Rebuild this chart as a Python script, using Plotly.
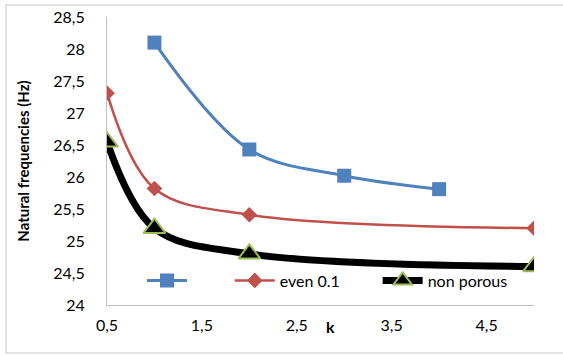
import plotly.graph_objects as go

k_blue = [1, 2, 3, 4]
f_blue = [28.1, 26.43, 26.02, 25.81]
k_even = [0.5, 1, 2, 5]
f_even = [27.31, 25.82, 25.41, 25.2]
k_nonp = [0.5, 1, 2, 5]
f_nonp = [26.55, 25.2, 24.8, 24.6]

x_ticks = [0.5, 1.5, 2.5, 3.5, 4.5]
y_ticks = [24, 24.5, 25, 25.5, 26, 26.5, 27, 27.5, 28, 28.5]

font = "Lato, Carlito, Calibri, sans-serif"
pad = "&nbsp;"

fig = go.Figure()

fig.add_trace(go.Scatter(
    x=k_blue, y=f_blue, name=pad * 8, mode="lines+markers",
    line=dict(color="#4F81BD", width=3, shape="spline", smoothing=1),
    marker=dict(symbol="square", size=14, color="#4F81BD"),
))
fig.add_trace(go.Scatter(
    x=k_even, y=f_even, name="even 0.1" + pad * 8, mode="lines+markers",
    line=dict(color="#C0504D", width=2.5, shape="spline", smoothing=1),
    marker=dict(symbol="diamond", size=12, color="#C0504D"),
))
fig.add_trace(go.Scatter(
    x=k_nonp, y=f_nonp, name="non porous", mode="lines+markers",
    line=dict(color="black", width=7, shape="spline", smoothing=1),
    marker=dict(symbol="triangle-up", size=19, color="black",
                line=dict(color="#9BBB59", width=2)),
))

fig.update_layout(
    width=563, height=356,
    margin=dict(l=107, r=29, t=17, b=51),
    paper_bgcolor="white", plot_bgcolor="white",
    separators=", ",
    font=dict(family=font, size=16, color="black"),
    showlegend=True,
    legend=dict(orientation="h", x=35 / 427, y=0.085, xanchor="left", yanchor="middle",
                bgcolor="rgba(0,0,0,0)", font=dict(size=16), itemwidth=40,
                tracegroupgap=0),
)

fig.update_xaxes(
    range=[0.5, 5], tickvals=x_ticks, showgrid=False, zeroline=False,
    showline=True, linecolor="#BFBFBF", linewidth=1,
    ticks="", ticklabelstandoff=6, automargin=False,
)
fig.update_yaxes(
    range=[24, 28.5], tickvals=y_ticks, showgrid=False, zeroline=False,
    showline=True, linecolor="#BFBFBF", linewidth=1,
    ticks="", ticklabelstandoff=18, automargin=False,
    title=dict(text="<b>Natural frequencies (Hz)</b>", font=dict(size=15), standoff=20),
)

fig.add_annotation(text="<b>k</b>", xref="paper", yref="paper",
                   x=(330 - 107) / 427, y=-(338 - 305) / 288,
                   showarrow=False, font=dict(size=16))

# chart border
fig.add_shape(type="rect", xref="paper", yref="paper",
              x0=-(107 - 6) / 427, x1=1.2, y0=-(353 - 305) / 288, y1=(305 - 5) / 288,
              line=dict(color="#D9D9D9", width=1.5))

fig.write_html("out.html", config={"displayModeBar": False},
               post_script="document.body.style.margin='0';")
